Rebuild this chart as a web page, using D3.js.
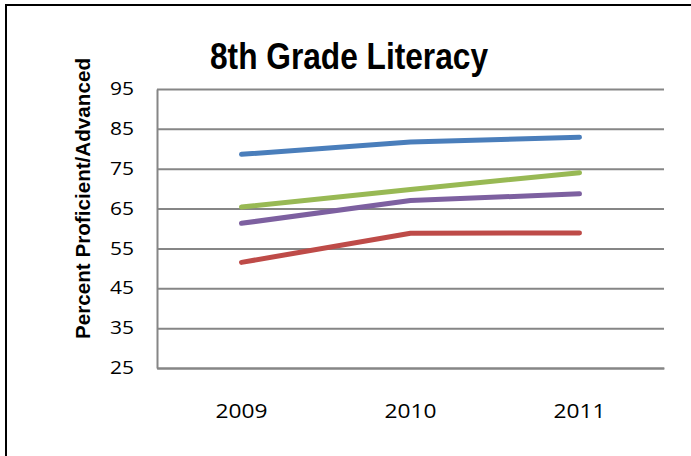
<!DOCTYPE html>
<html>
<head>
<meta charset="utf-8">
<script src="https://cdn.jsdelivr.net/npm/d3@7"></script>
<style>
  body { margin: 0; background: #fff; }
  svg { display: block; }
  .grid line { stroke: #868686; stroke-width: 2; }
  .grid .domain { display: none; }
  .axis-g .domain { stroke: #868686; stroke-width: 2; }
  .axis-g text { font-family: "Open Sans", sans-serif; fill: #000; }
</style>
</head>
<body>
<div id="graph"></div>
<script>
// chart data
const years = ['2009', '2010', '2011']
const yTicks = [25, 35, 45, 55, 65, 75, 85, 95]
const seriesBlue = [78.6, 81.7, 82.9]
const seriesRed = [51.5, 58.8, 58.9]
const seriesGreen = [65.4, 69.8, 74.0]
const seriesPurple = [61.3, 67.0, 68.7]

const seriesList = [
  { values: seriesBlue, color: '#4A7EBB' },
  { values: seriesRed, color: '#BE4B48' },
  { values: seriesGreen, color: '#98B954' },
  { values: seriesPurple, color: '#7D60A0' }
]

const width = 691
const height = 456
// plot area edges
const plotLeft = 157, plotRight = 664, plotTop = 89, plotBottom = 368

const svg = d3.select('#graph')
  .append('svg')
  .attr('width', width)
  .attr('height', height)

// outer frame (only top and left edges are visible)
svg.append('path')
  .attr('d', `M6,${height} V5 H${width}`)
  .attr('fill', 'none')
  .attr('stroke', '#000')
  .attr('stroke-width', 2)

const xScale = d3.scaleBand()
  .domain(years)
  .range([plotLeft, plotRight])

const yScale = d3.scaleLinear()
  .domain([25, 95])
  .range([plotBottom, plotTop])

// horizontal grid
svg.append('g')
  .attr('class', 'grid')
  .attr('transform', `translate(${plotLeft},0)`)
  .call(d3.axisLeft(yScale).tickValues(yTicks).tickSize(-(plotRight - plotLeft)).tickFormat(''))

// y axis
svg.append('g')
  .attr('class', 'axis-g')
  .attr('transform', `translate(${plotLeft},0)`)
  .call(d3.axisLeft(yScale).tickValues(yTicks).tickSize(0).tickPadding(23))
  .call(g => g.selectAll('text')
    .attr('font-size', 17.5)
    .attr('textLength', 24)
    .attr('lengthAdjust', 'spacingAndGlyphs'))

// x axis
svg.append('g')
  .attr('class', 'axis-g')
  .attr('transform', `translate(0,${plotBottom})`)
  .call(d3.axisBottom(xScale).tickSize(0).tickPadding(36))
  .call(g => g.selectAll('text')
    .attr('font-size', 20)
    .attr('textLength', 52)
    .attr('lengthAdjust', 'spacingAndGlyphs'))

// lines
const line = d3.line()
  .x((d, i) => xScale(years[i]) + xScale.bandwidth() / 2)
  .y(d => yScale(d))

svg.selectAll('.series')
  .data(seriesList)
  .enter()
  .append('path')
  .attr('class', 'series')
  .attr('d', d => line(d.values))
  .attr('fill', 'none')
  .attr('stroke', d => d.color)
  .attr('stroke-width', 5)
  .attr('stroke-linecap', 'round')
  .attr('stroke-linejoin', 'round')

// title
svg.append('text')
  .attr('x', 349)
  .attr('y', 69)
  .attr('text-anchor', 'middle')
  .attr('font-family', '"Liberation Sans", Arial, sans-serif')
  .attr('font-weight', 'bold')
  .attr('font-size', 36)
  .attr('textLength', 278)
  .attr('lengthAdjust', 'spacingAndGlyphs')
  .text('8th Grade Literacy')

// y axis label
svg.append('text')
  .attr('transform', 'translate(90,198.5) rotate(-90)')
  .attr('text-anchor', 'middle')
  .attr('font-family', '"Liberation Sans", Arial, sans-serif')
  .attr('font-weight', 'bold')
  .attr('font-size', 20.5)
  .attr('textLength', 281)
  .attr('lengthAdjust', 'spacingAndGlyphs')
  .text('Percent Proficient/Advanced')
</script>
</body>
</html>
